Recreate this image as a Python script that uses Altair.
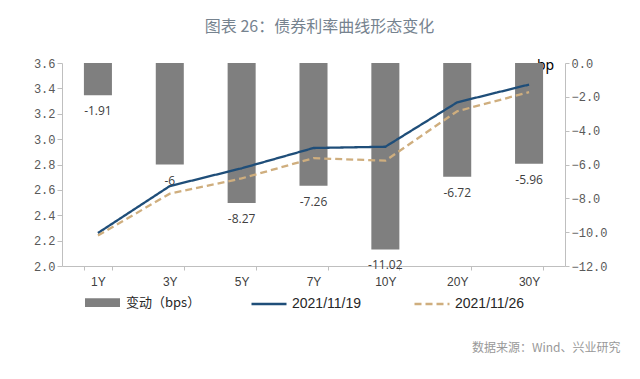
import altair as alt
import pandas as pd

cats = ["1Y", "3Y", "5Y", "7Y", "10Y", "20Y", "30Y"]
chg = [-1.91, -6, -8.27, -7.26, -11.02, -6.72, -5.96]
y_1119 = [2.26, 2.63, 2.77, 2.93, 2.94, 3.29, 3.43]
y_1126 = [2.24, 2.57, 2.69, 2.85, 2.83, 3.22, 3.37]
bar_name = "变动（bps）"
s1, s2 = "2021/11/19", "2021/11/26"
left_ticks = [2.0, 2.2, 2.4, 2.6, 2.8, 3.0, 3.2, 3.4, 3.6]
right_ticks = [0, -2, -4, -6, -8, -10, -12]

bar_df = pd.DataFrame({"tenor": cats, "chg": chg, "name": [bar_name] * len(cats)})
line_df = pd.DataFrame({
    "tenor": cats * 2,
    "rate": y_1119 + y_1126,
    "series": [s1] * len(cats) + [s2] * len(cats),
})

FONT = "Noto Sans CJK SC"
GRAY_AX = "#bfbfbf"
LBL = "#595959"

x_enc = alt.X(
    "tenor:N", sort=cats,
    scale=alt.Scale(paddingInner=0.61, paddingOuter=0.305),
    axis=alt.Axis(
        title="数据来源：Wind、兴业研究", titleAnchor="end", titleAlign="right",
        titleX=558, titleY=81, titleBaseline="middle", titleColor="#999999",
        titleFontSize=12, titleFontWeight="normal", titleFont=FONT,
        labelAngle=0, labelColor="#404040", labelFontSize=12, labelFont="Liberation Sans",
        labelPadding=6, domainColor=GRAY_AX, tickColor=GRAY_AX, tickSize=4,
        tickBand="extent", grid=False,
    ),
)

bars = alt.Chart(bar_df).mark_bar(color="#7f7f7f").encode(
    x=x_enc,
    y=alt.Y("chg:Q", scale=alt.Scale(domain=[-12, 0], nice=False),
            axis=alt.Axis(orient="right", values=right_ticks, format=".1f",
                          labelOverlap=False,
                          title="bp", titleAngle=0, titleX=-20, titleY=2,
                          titleAlign="center", titleBaseline="middle",
                          titleColor="#000000", titleFontSize=14, titleFontWeight="normal",
                          titleFont="Noto Sans",
                          labelColor=LBL, labelFontSize=12, labelFont="Liberation Mono",
                          domainColor=GRAY_AX, tickColor=GRAY_AX, tickSize=4, grid=False)),
    fill=alt.Fill("name:N", scale=alt.Scale(domain=[bar_name], range=["#7f7f7f"]),
                  legend=alt.Legend(orient="none", legendX=23, legendY=222, title=None,
                                    symbolType="M-1,-0.25L1,-0.25L1,0.25L-1,0.25Z",
                                    symbolSize=1225, symbolStrokeWidth=0,
                                    labelFontSize=13, labelFont=FONT, labelColor="#262626",
                                    labelOffset=6)),
)

labels = alt.Chart(bar_df).mark_text(baseline="top", dy=11, fontSize=12,
                                     color="#404040", font="Open Sans").encode(
    x=alt.X("tenor:N", sort=cats),
    y=alt.Y("chg:Q", scale=alt.Scale(domain=[-12, 0], nice=False), axis=None),
    text=alt.Text("chg:N"),
)

leg = dict(orient="none", legendX=188, legendY=222, title=None,
           direction="horizontal", symbolType="stroke",
           symbolSize=1225, symbolStrokeWidth=2.5, columnPadding=47,
           labelFontSize=14, labelFont="Liberation Sans",
           labelColor="#262626", labelOffset=4)

lines = alt.Chart(line_df).mark_line(strokeWidth=2.3).encode(
    x=alt.X("tenor:N", sort=cats),
    y=alt.Y("rate:Q", scale=alt.Scale(domain=[2.0, 3.6], nice=False, zero=False),
            axis=alt.Axis(orient="left", values=left_ticks, format=".1f", title=None,
                          labelOverlap=False,
                          labelColor=LBL, labelFontSize=12, labelFont="Liberation Mono",
                          domainColor=GRAY_AX, tickColor=GRAY_AX, tickSize=5, grid=False)),
    stroke=alt.Stroke("series:N", scale=alt.Scale(domain=[s1, s2], range=["#1f4e79", "#cfae7e"]),
                      legend=alt.Legend(**leg)),
    strokeDash=alt.StrokeDash("series:N", scale=alt.Scale(domain=[s1, s2], range=[[1, 0], [7, 4]]),
                              legend=alt.Legend(**leg)),
)

chart = alt.layer(bars, labels, lines).resolve_scale(y="independent").properties(
    width=503, height=203,
    autosize=alt.AutoSizeParams(type="none"),
    padding={"left": 54, "top": 55, "right": 67, "bottom": 105},
    title=alt.Title("图表 26：债券利率曲线形态变化", fontSize=16, color="#76838f",
                    font=FONT, fontWeight="normal", anchor="middle", offset=22, dx=6),
).configure_view(stroke=None)

chart.save("out.html", embed_options={"renderer": "svg", "actions": False})
